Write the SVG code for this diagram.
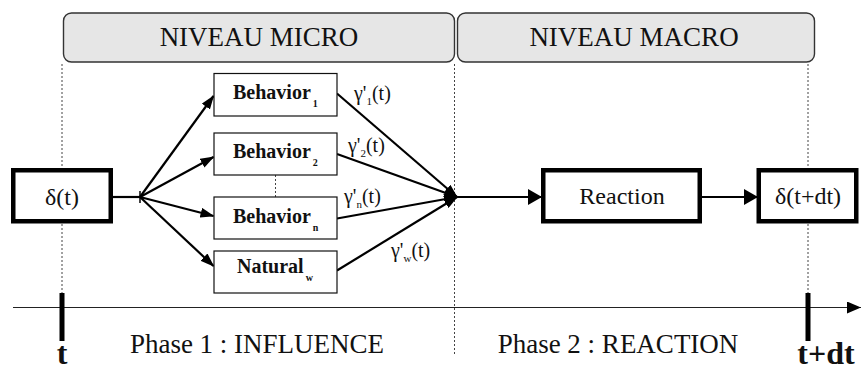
<svg xmlns="http://www.w3.org/2000/svg" width="861" height="370" viewBox="0 0 861 370">
  <style>
    text { font-family: "Liberation Serif", "DejaVu Serif", "Times New Roman", serif; fill: #111; }
    .level { fill: #e6e6e6; stroke: #333; stroke-width: 1.4; }
    .level-label { font-size: 27px; text-anchor: middle; }
    .box { fill: #fff; stroke: #111; stroke-width: 1.2; }
    .thick { fill: #fff; stroke: #000; stroke-width: 4.5; }
    .bold { font-weight: bold; font-size: 20px; }
    .guide { stroke: #444; stroke-width: 1; stroke-dasharray: 2 2; fill: none; }
    .edge { stroke: #000; stroke-width: 2.2; fill: none; }
    .tick { fill: #000; }
  </style>
  <defs>
    <marker id="arrow" viewBox="0 0 14 10" refX="13" refY="5" markerWidth="14" markerHeight="10" orient="auto" markerUnits="userSpaceOnUse">
      <path d="M0,0 L14,5 L0,10 z" fill="#000"/>
    </marker>
    <marker id="arrow-big" viewBox="0 0 14 16" refX="13" refY="8" markerWidth="14" markerHeight="16" orient="auto" markerUnits="userSpaceOnUse">
      <path d="M0,0 L14,8 L0,16 z" fill="#000"/>
    </marker>
    <marker id="axis-head" viewBox="0 0 14 12" refX="14" refY="6" markerWidth="14" markerHeight="12" orient="auto" markerUnits="userSpaceOnUse">
      <path d="M0,0 L14,6 L0,12 z" fill="#000"/>
    </marker>
  </defs>

  <!-- level banners -->
  <g id="level-micro">
    <rect class="level" x="63.5" y="13" width="391" height="49" rx="8"/>
    <text class="level-label" x="259" y="46">NIVEAU MICRO</text>
  </g>
  <g id="level-macro">
    <rect class="level" x="457.5" y="13" width="357" height="49" rx="8"/>
    <text class="level-label" x="634" y="46">NIVEAU MACRO</text>
  </g>

  <!-- time guides and axis -->
  <g id="timeline">
    <line class="guide" x1="62" y1="64" x2="62" y2="293"/>
    <line class="guide" x1="454.5" y1="64" x2="454.5" y2="356"/>
    <line class="guide" x1="808" y1="64" x2="808" y2="293"/>
    <line x1="13" y1="307.5" x2="861" y2="307.5" stroke="#222" stroke-width="1.2" marker-end="url(#axis-head)"/>
    <rect class="tick" x="59.5" y="293" width="5" height="48"/>
    <rect class="tick" x="805.5" y="293" width="5" height="48"/>
    <text x="62" y="364" font-size="32" font-weight="bold" text-anchor="middle">t</text>
    <text x="826" y="364" font-size="32" font-weight="bold" text-anchor="middle">t+dt</text>
    <text x="257" y="353" font-size="27" text-anchor="middle">Phase 1 : INFLUENCE</text>
    <text x="618" y="353" font-size="27" text-anchor="middle">Phase 2 : REACTION</text>
  </g>

  <!-- connectors -->
  <g id="connectors">
    <line class="edge" x1="113" y1="197" x2="140" y2="197"/>
    <line x1="140" y1="191" x2="140" y2="203" stroke="#000" stroke-width="1.5"/>
    <line class="edge" x1="140" y1="197" x2="213.5" y2="96" marker-end="url(#arrow)"/>
    <line class="edge" x1="140" y1="197" x2="213.5" y2="157" marker-end="url(#arrow)"/>
    <line class="edge" x1="140" y1="197" x2="213.5" y2="216" marker-end="url(#arrow)"/>
    <line class="edge" x1="140" y1="197" x2="213.5" y2="266" marker-end="url(#arrow)"/>
    <line class="edge" x1="337" y1="93.5" x2="457" y2="197" marker-end="url(#arrow)"/>
    <line class="edge" x1="337" y1="154" x2="457" y2="197" marker-end="url(#arrow)"/>
    <line class="edge" x1="337" y1="218.5" x2="457" y2="197" marker-end="url(#arrow)"/>
    <line class="edge" x1="337" y1="270.5" x2="457" y2="197" marker-end="url(#arrow)"/>
    <line class="edge" x1="457" y1="197" x2="541" y2="197" marker-end="url(#arrow-big)"/>
    <line class="edge" x1="702" y1="197" x2="757" y2="197" marker-end="url(#arrow-big)"/>
    <line class="guide" x1="275.5" y1="175" x2="275.5" y2="197"/>
  </g>

  <!-- rate labels on the converging edges -->
  <g id="rates" font-size="20">
    <text x="354" y="100">γ'<tspan font-size="11" dy="5">1</tspan><tspan dy="-5">(t)</tspan></text>
    <text x="348" y="152">γ'<tspan font-size="11" dy="5">2</tspan><tspan dy="-5">(t)</tspan></text>
    <text x="344" y="203">γ'<tspan font-size="11" dy="5">n</tspan><tspan dy="-5">(t)</tspan></text>
    <text x="391" y="257">γ'<tspan font-size="11" dy="5">w</tspan><tspan dy="-5">(t)</tspan></text>
  </g>

  <!-- state at t -->
  <g id="state-t">
    <rect class="thick" x="13.25" y="170.25" width="97.5" height="51"/>
    <text x="62" y="205" font-size="24" text-anchor="middle">δ(t)</text>
  </g>

  <!-- behaviours -->
  <g id="behavior-1">
    <rect class="box" x="214" y="73.5" width="123" height="42.5"/>
    <text class="bold" x="233" y="99">Behavior<tspan font-size="10" dx="2" dy="8">1</tspan></text>
  </g>
  <g id="behavior-2">
    <rect class="box" x="214" y="133" width="123" height="42"/>
    <text class="bold" x="233" y="158">Behavior<tspan font-size="10" dx="2" dy="8">2</tspan></text>
  </g>
  <g id="behavior-n">
    <rect class="box" x="214" y="197" width="123" height="42"/>
    <text class="bold" x="233" y="223">Behavior<tspan font-size="10" dx="2" dy="8">n</tspan></text>
  </g>
  <g id="natural-w">
    <rect class="box" x="214" y="251" width="123" height="42"/>
    <text class="bold" x="237" y="273">Natural<tspan font-size="10" dx="2" dy="8">w</tspan></text>
  </g>

  <!-- reaction and resulting state -->
  <g id="reaction">
    <rect class="thick" x="543.25" y="170.25" width="156.5" height="51"/>
    <text x="622" y="204" font-size="24" text-anchor="middle">Reaction</text>
  </g>
  <g id="state-t-dt">
    <rect class="thick" x="758.75" y="170.25" width="97.5" height="51"/>
    <text x="808" y="204" font-size="24" text-anchor="middle">δ(t+dt)</text>
  </g>
</svg>
